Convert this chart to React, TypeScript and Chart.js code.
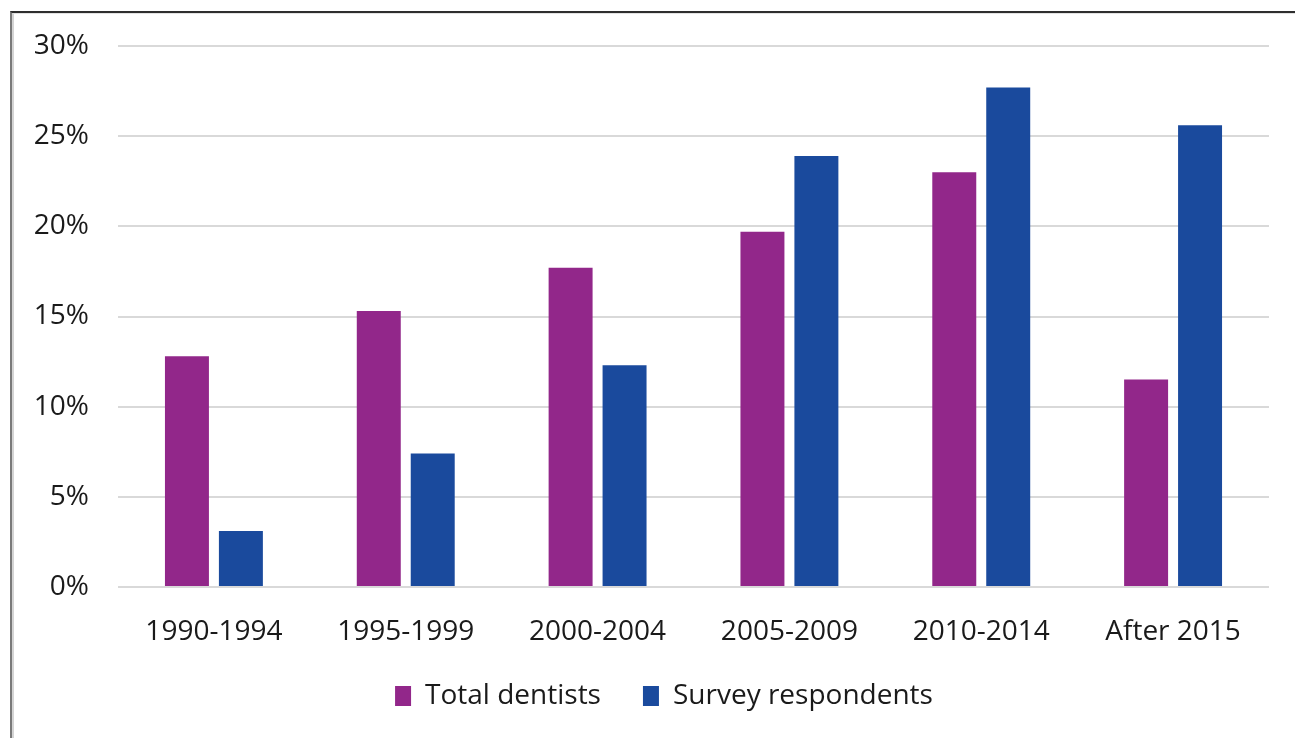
import { useEffect, useRef } from "react";
import { Chart, registerables } from "chart.js";

Chart.register(...registerables);

// Share of dentists by graduation period
const periods = ["1990-1994", "1995-1999", "2000-2004", "2005-2009", "2010-2014", "After 2015"];
const totalDentists = [12.8, 15.3, 17.7, 19.7, 23.0, 11.5];
const surveyRespondents = [3.1, 7.4, 12.3, 23.9, 27.7, 25.6];
const seriesNames = ["Total dentists", "Survey respondents"];
const seriesColors = ["#92278A", "#1A4A9D"];
const yMax = 30;
const yStep = 5;

const FONT = "'Open Sans', 'Noto Sans', sans-serif";
const W = 1295;
const H = 738;

// The y-axis box is kept narrow so the legend centres where it should;
// widen its label clip area back to the canvas edge after layout.
const widenYLabelArea = {
  id: "widenYLabelArea",
  afterLayout(chart: any) {
    const y = chart.scales.y;
    if (y) y.left = 0;
  },
};

export default function App() {
  const canvasRef = useRef<HTMLCanvasElement | null>(null);

  useEffect(() => {
    const canvas = canvasRef.current;
    if (!canvas) return;
    const chart = new Chart(canvas, {
      type: "bar",
      data: {
        labels: periods,
        datasets: [
          {
            label: seriesNames[0],
            data: totalDentists,
            backgroundColor: seriesColors[0],
            categoryPercentage: 0.5625,
            barPercentage: 0.815,
          },
          {
            label: seriesNames[1],
            data: surveyRespondents,
            backgroundColor: seriesColors[1],
            categoryPercentage: 0.5625,
            barPercentage: 0.815,
          },
        ],
      },
      plugins: [widenYLabelArea],
      options: {
        responsive: false,
        animation: false,
        devicePixelRatio: 1,
        layout: { padding: { left: 59, right: 26, top: 46, bottom: 18 } },
        font: { family: FONT, size: 28 },
        plugins: {
          tooltip: { enabled: false },
          legend: {
            position: "bottom",
            align: "center",
            labels: {
              font: { family: FONT, size: 28 },
              color: "#1a1a1a",
              boxWidth: 16,
              boxHeight: 20,
              padding: 42,
            },
          },
        },
        scales: {
          x: {
            grid: { display: false },
            border: { display: false },
            ticks: {
              font: { family: FONT, size: 28 },
              color: "#1a1a1a",
              padding: 20,
              maxRotation: 0,
            },
            afterFit: (scale: any) => {
              scale.height = 53;
            },
          },
          y: {
            min: 0,
            max: yMax,
            grid: { color: "#d9d9d9", lineWidth: 2, drawTicks: false },
            border: { display: false },
            ticks: {
              stepSize: yStep,
              padding: 29,
              font: { family: FONT, size: 28 },
              color: "#1a1a1a",
              callback: (v: any) => `${v}%`,
            },
            afterFit: (scale: any) => {
              scale.width = 59;
            },
          },
        },
      } as any,
    });
    return () => chart.destroy();
  }, []);

  return (
    <div style={{ position: "fixed", left: 0, top: 0, width: W, height: H, overflow: "hidden", background: "#fff" }}>
      <div
        style={{
          position: "absolute",
          left: 10,
          top: 11,
          width: 2000,
          height: 2000,
          borderLeft: "2px solid #7a7a7a",
          borderTop: "2px solid #2e2e2e",
        }}
      >
        <div
          style={{
            position: "absolute",
            left: 0,
            top: 0,
            width: "100%",
            height: "100%",
            borderLeft: "2px solid #d4d4d4",
            borderTop: "1px solid #e2e2e2",
          }}
        />
      </div>
      <canvas
        ref={canvasRef}
        width={W}
        height={H}
        style={{ position: "absolute", left: 0, top: 0, width: W, height: H }}
      />
    </div>
  );
}
